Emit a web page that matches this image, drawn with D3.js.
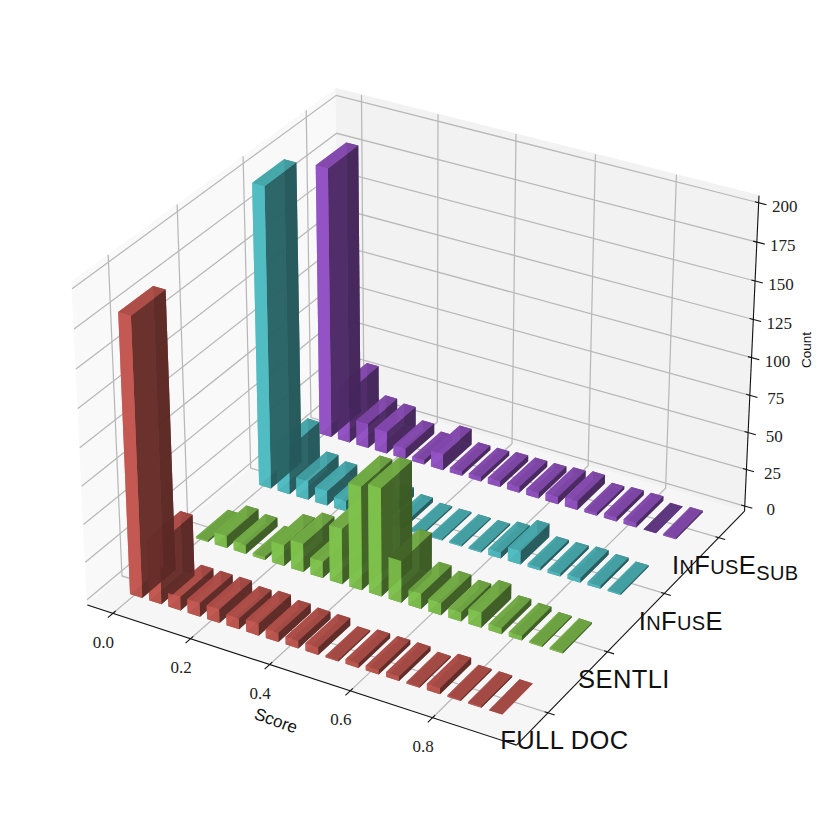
<!DOCTYPE html>
<html><head><meta charset="utf-8">
<script src="https://cdn.jsdelivr.net/npm/d3@7"></script>
<style>html,body{margin:0;background:#fff}svg{display:block}</style>
</head><body><div id="chart"></div>
<script>
const seriesNames = ["FULL DOC","SENTLI","INFUSE","INFUSE_SUB"];
const seriesColors = ["#dc6159","#8fda56","#58d4da","#a55bdd"];
const xTicks = [0,0.2,0.4,0.6,0.8];
const zTicks = [0,25,50,75,100,125,150,175,200];
const binStep = 0.05;
const fullDocCounts = [183,41,9,9,9,7,8,6,5,5,1,3,3,3,1,4,1,1,0];
const sentliCounts  = [1,8,6,2,14,19,11,37,69,72,28,10,8,6,10,4,3,1,1];
const infuseCounts  = [201,32,13,10,7,5,6,3,1,1,1,1,4,9,2,2,3,2,1];
const infuseSubCounts = [182,36,17,15,7,3,11,3,3,4,4,4,5,6,2,3,3,0,1];
const allCounts = [fullDocCounts,sentliCounts,infuseCounts,infuseSubCounts];
const flippedBars = [[3,17]];

const W=830,H=824;
const svg=d3.select("#chart").append("svg").attr("width",W).attr("height",H);

const boxX=1.1905, boxZ=0.8929;
const xS=d3.scaleLinear().domain([-0.067,1.0]).range([-boxX/2,boxX/2]);
const yS=d3.scaleLinear().domain([-0.51,3.49]).range([-boxX/2,boxX/2]);
const zS=d3.scaleLinear().domain([-3.5,204.5]).range([-boxZ/2,boxZ/2]);
const [xMin,xMax]=xS.domain(),[yMin,yMax]=yS.domain(),[zMin,zMax]=zS.domain();
const elev=30*Math.PI/180, azim=-60*Math.PI/180, dist=10;
const w3=[Math.cos(elev)*Math.cos(azim),Math.cos(elev)*Math.sin(azim),Math.sin(elev)];
const u3=[-Math.sin(azim),Math.cos(azim),0];
const v3=[w3[1]*u3[2]-w3[2]*u3[1],w3[2]*u3[0]-w3[0]*u3[2],w3[0]*u3[1]-w3[1]*u3[0]];
const dot=(a,b)=>a[0]*b[0]+a[1]*b[1]+a[2]*b[2];
const pxS=d3.scaleLinear().domain([0,1]).range([422,422+4130]);
const pyS=d3.scaleLinear().domain([0,1]).range([401,401-4130]);
function depth(x,y,z){return dist-dot(w3,[xS(x),yS(y),zS(z)]);}
function proj(x,y,z){const q=[xS(x),yS(y),zS(z)];const d=dist-dot(w3,q);return [pxS(dot(u3,q)/d),pyS(dot(v3,q)/d)];}
const line=d3.line();

const panes=[
 {c:"#f9f9f9",p:[[xMin,yMin,zMin],[xMin,yMax,zMin],[xMin,yMax,zMax],[xMin,yMin,zMax]]},
 {c:"#f2f2f2",p:[[xMin,yMax,zMin],[xMax,yMax,zMin],[xMax,yMax,zMax],[xMin,yMax,zMax]]},
 {c:"#f6f6f6",p:[[xMin,yMin,zMin],[xMax,yMin,zMin],[xMax,yMax,zMin],[xMin,yMax,zMin]]}];
svg.append("g").selectAll("path").data(panes).join("path")
 .attr("d",d=>line(d.p.map(p=>proj(...p)))+"Z").attr("fill",d=>d.c).attr("stroke",d=>d.c).attr("stroke-width",1);

const yTicks=seriesNames.map((_,i)=>i);
const grid=[];
xTicks.forEach(x=>grid.push([[x,yMin,zMin],[x,yMax,zMin],[x,yMax,zMax]]));
yTicks.forEach(y=>grid.push([[xMax,y,zMin],[xMin,y,zMin],[xMin,y,zMax]]));
zTicks.forEach(z=>grid.push([[xMax,yMax,z],[xMin,yMax,z],[xMin,yMin,z]]));
svg.append("g").selectAll("path").data(grid).join("path")
 .attr("d",d=>line(d.map(p=>proj(...p)))).attr("fill","none").attr("stroke","#b8b8b8").attr("stroke-width",1.25);

const axes=[[[xMin,yMin,zMin],[xMax,yMin,zMin]],[[xMax,yMin,zMin],[xMax,yMax,zMin]],[[xMax,yMax,zMin],[xMax,yMax,zMax]]];
const tickSegs=[];
xTicks.forEach(x=>tickSegs.push([[x,yMin-0.075,zMin],[x,yMin+0.04,zMin]]));
yTicks.forEach(y=>tickSegs.push([[xMax+0.016,y,zMin],[xMax-0.008,y,zMin]]));
zTicks.forEach(z=>tickSegs.push([[xMax+0.019,yMax,z],[xMax-0.009,yMax,z]]));
const axG=svg.append("g");
axG.selectAll("path.a").data(axes.concat(tickSegs)).join("path").attr("class","a")
 .attr("d",d=>line(d.map(p=>proj(...p)))).attr("fill","none").attr("stroke","#111").attr("stroke-width",1.1);

const shade={bottom:.5333,top:.7667,front:.8833,back:.4167,left:.8833,right:.4167};
const barWidth=0.032, barOffset=-0.016, barDepth=0.5, depthOffset=-0.17, barBase=-5;
const alpha=0.87;
function shadeColor(c,k){const r=d3.rgb(c);return d3.rgb(r.r*k,r.g*k,r.b*k).formatRgb();}
const barsG=svg.append("g");
[3,2,1,0].forEach(si=>{
 const faces=[];
 allCounts[si].forEach((h,bi)=>{
  const x0=bi*binStep+barOffset,x1=x0+barWidth,y0=si+depthOffset,y1=y0+barDepth;
  const z0=barBase,z1=barBase+h;
  const flipped=flippedBars.some(f=>f[0]===si&&f[1]===bi);
  const f={
   bottom:[[x0,y0,z0],[x1,y0,z0],[x1,y1,z0],[x0,y1,z0]],
   top:[[x0,y0,z1],[x1,y0,z1],[x1,y1,z1],[x0,y1,z1]],
   front:[[x0,y0,z0],[x1,y0,z0],[x1,y0,z1],[x0,y0,z1]],
   back:[[x0,y1,z0],[x1,y1,z0],[x1,y1,z1],[x0,y1,z1]],
   left:[[x0,y0,z0],[x0,y1,z0],[x0,y1,z1],[x0,y0,z1]],
   right:[[x1,y0,z0],[x1,y1,z0],[x1,y1,z1],[x1,y0,z1]]};
  (flipped?["top","bottom","front","back","left","right"]:["bottom","top","front","back","left","right"]).forEach(k=>{
   if(h===0&&k!=="top"&&k!=="bottom")return;
   faces.push({k,pts:f[k],d:d3.mean(f[k],p=>depth(...p))});
  });
 });
 const sorted=d3.sort(faces,(a,b)=>d3.descending(a.d,b.d));
 barsG.append("g").selectAll("path").data(sorted).join("path")
  .attr("d",d=>line(d.pts.map(p=>proj(...p)))+"Z")
  .attr("fill",d=>shadeColor(seriesColors[si],shade[d.k]))
  .attr("fill-opacity",alpha);
});

const serif='"Liberation Serif",serif', sans='"Liberation Sans",Arial,sans-serif';
const fmtX=d3.format(".1f");
svg.append("g").selectAll("text").data(xTicks).join("text")
 .attr("x",d=>proj(d,yMin,zMin)[0]-9.5).attr("y",d=>proj(d,yMin,zMin)[1]+34.5)
 .attr("text-anchor","middle").attr("font-family",serif).attr("font-size",17).attr("fill","#222")
 .text(d=>fmtX(d));
svg.append("g").selectAll("text").data(zTicks).join("text")
 .attr("x",d=>proj(xMax,yMax,d)[0]+26).attr("y",d=>proj(xMax,yMax,d)[1]+9)
 .attr("text-anchor","middle").attr("font-family",serif).attr("font-size",17).attr("fill","#222")
 .text(d=>d);

const big=25.5, small=20, sub=20;
const labelRuns=[
 [["FULL DOC",big,0]],
 [["SENTLI",big,0]],
 [["I",big,0],["N",small,0],["F",big,0],["US",small,0],["E",big,0]],
 [["I",big,0],["N",small,0],["F",big,0],["US",small,0],["E",big,0],["SUB",sub,5.5]]];
const yLabelG=svg.append("g");
yTicks.forEach(i=>{
 const p=proj(xMax,i,zMin);
 const t=yLabelG.append("text").attr("x",p[0]+16.5).attr("y",p[1]+36.5)
  .attr("text-anchor","middle").attr("font-family",sans).attr("fill","#111").attr("letter-spacing",0.4);
 let prev=0;
 labelRuns[i].forEach(r=>{t.append("tspan").attr("font-size",r[1]).attr("dy",r[2]-prev).text(r[0]);prev=r[2];});
});

svg.append("text").attr("transform","translate(274,726) rotate(20)").attr("text-anchor","middle")
 .attr("font-family",sans).attr("font-size",17).attr("fill","#111").text("Score");
svg.append("text").attr("transform","translate(811,350) rotate(-90)").attr("text-anchor","middle")
 .attr("font-family",sans).attr("font-size",13.5).attr("fill","#111").text("Count");
</script></body></html>
